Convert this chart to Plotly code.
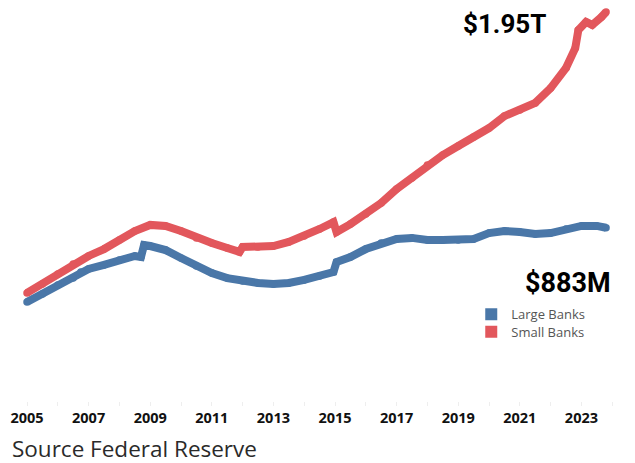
import plotly.graph_objects as go

small_years = [2005.0, 2005.5, 2006.0, 2006.5, 2007.0, 2007.5, 2008.0, 2008.5, 2009.0, 2009.5,
               2010.0, 2010.5, 2011.0, 2011.5, 2011.9, 2012.0, 2012.5, 2013.0, 2013.5, 2014.0,
               2014.5, 2014.95, 2015.05, 2015.5, 2016.0, 2016.5, 2017.0, 2017.5, 2018.0, 2018.5,
               2019.0, 2019.5, 2020.0, 2020.5, 2021.0, 2021.5, 2022.0, 2022.5, 2022.8, 2022.9,
               2023.15, 2023.35, 2023.65, 2023.8]
# Small banks, trillions of dollars
small_banks = [0.562, 0.606, 0.655, 0.704, 0.744, 0.778, 0.823, 0.867, 0.897, 0.892,
               0.867, 0.833, 0.808, 0.783, 0.764, 0.788, 0.788, 0.793, 0.813, 0.842,
               0.877, 0.911, 0.862, 0.901, 0.951, 1.005, 1.074, 1.128, 1.192, 1.241,
               1.286, 1.330, 1.374, 1.433, 1.463, 1.498, 1.571, 1.670, 1.768, 1.857,
               1.897, 1.882, 1.921, 1.946]

large_years = [2005.0, 2005.5, 2006.0, 2006.5, 2006.75, 2007.0, 2007.5, 2008.0, 2008.5, 2008.7,
               2008.8, 2009.0, 2009.5, 2010.0, 2010.5, 2011.0, 2011.5, 2012.0, 2012.5, 2013.0,
               2013.5, 2014.0, 2014.5, 2014.95, 2015.05, 2015.5, 2016.0, 2016.5, 2017.0, 2017.5,
               2018.0, 2018.5, 2019.0, 2019.5, 2020.0, 2020.5, 2021.0, 2021.5, 2022.0, 2022.5,
               2023.0, 2023.5, 2023.8]
# Large banks, trillions of dollars
large_banks = [0.517, 0.557, 0.601, 0.635, 0.665, 0.680, 0.700, 0.724, 0.744, 0.739,
               0.798, 0.793, 0.773, 0.734, 0.695, 0.660, 0.635, 0.621, 0.611, 0.606,
               0.611, 0.626, 0.645, 0.665, 0.714, 0.739, 0.778, 0.808, 0.828, 0.833,
               0.823, 0.823, 0.823, 0.828, 0.857, 0.867, 0.862, 0.852, 0.857, 0.877,
               0.892, 0.892, 0.883]

tick_years = [2005, 2007, 2009, 2011, 2013, 2015, 2017, 2019, 2021, 2023]
tick_labels = [str(y) for y in tick_years]

series_names = ["Large Banks", "Small Banks"]
end_labels = ["$883M", "$1.95T"]

BLUE = "#4A77A8"
RED = "#E2575C"

fig = go.Figure()
fig.add_trace(go.Scatter(x=large_years, y=large_banks, mode="lines+markers",
                         line=dict(color=BLUE, width=8),
                         marker=dict(color=BLUE, size=7.5),
                         cliponaxis=False, showlegend=False, hoverinfo="skip"))
fig.add_trace(go.Scatter(x=small_years, y=small_banks, mode="lines+markers",
                         line=dict(color=RED, width=8),
                         marker=dict(color=RED, size=7.5),
                         cliponaxis=False, showlegend=False, hoverinfo="skip"))
# legend entries with square swatches, one legend per entry for tight spacing
for name, col, leg in zip(series_names, [BLUE, RED], ["legend", "legend2"]):
    fig.add_trace(go.Scatter(x=[None], y=[None], mode="markers", name=name, legend=leg,
                             marker=dict(symbol="square", size=12, color=col)))

fig.add_annotation(x=2020.49, y=1.889, xref="x", yref="y", text="<b>" + end_labels[1] + "</b>",
                   showarrow=False, font=dict(family="Roboto", size=26, color="#000"))
fig.add_annotation(x=2022.56, y=0.611, xref="x", yref="y", text="<b>" + end_labels[0] + "</b>",
                   showarrow=False, font=dict(family="Roboto", size=27, color="#000"))
fig.add_annotation(x=0, y=-0.1209, xref="paper", yref="paper", xanchor="left", yanchor="middle",
                   text="Source Federal Reserve", showarrow=False,
                   font=dict(family="Open Sans", size=22.5, color="#2a2a2a"))

legend_font = dict(family="Open Sans", size=13, color="#555")
fig.update_layout(
    width=635, height=463,
    margin=dict(l=2, r=18, t=0, b=70),
    paper_bgcolor="white", plot_bgcolor="white",
    showlegend=True,
    legend=dict(x=0.75, y=0.2207, xanchor="left", yanchor="middle",
                font=legend_font, itemwidth=30, bgcolor="rgba(0,0,0,0)"),
    legend2=dict(x=0.75, y=0.1761, xanchor="left", yanchor="middle",
                 font=legend_font, itemwidth=30, bgcolor="rgba(0,0,0,0)"),
    xaxis=dict(range=[2004.448, 2024.415], tickmode="array", tickvals=tick_years,
               ticktext=tick_labels, showgrid=False, zeroline=False, showline=False,
               ticks="outside", ticklen=4, tickcolor="#eeeeee",
               minor=dict(tickvals=list(range(2005, 2025)), ticks="outside", ticklen=4,
                          tickcolor="#eeeeee", showgrid=False),
               tickfont=dict(family="Open Sans", size=14.5, color="#111", weight="bold")),
    yaxis=dict(range=[0.02956, 1.9655], visible=False, showgrid=False, zeroline=False),
)

fig.write_html("out.html")
